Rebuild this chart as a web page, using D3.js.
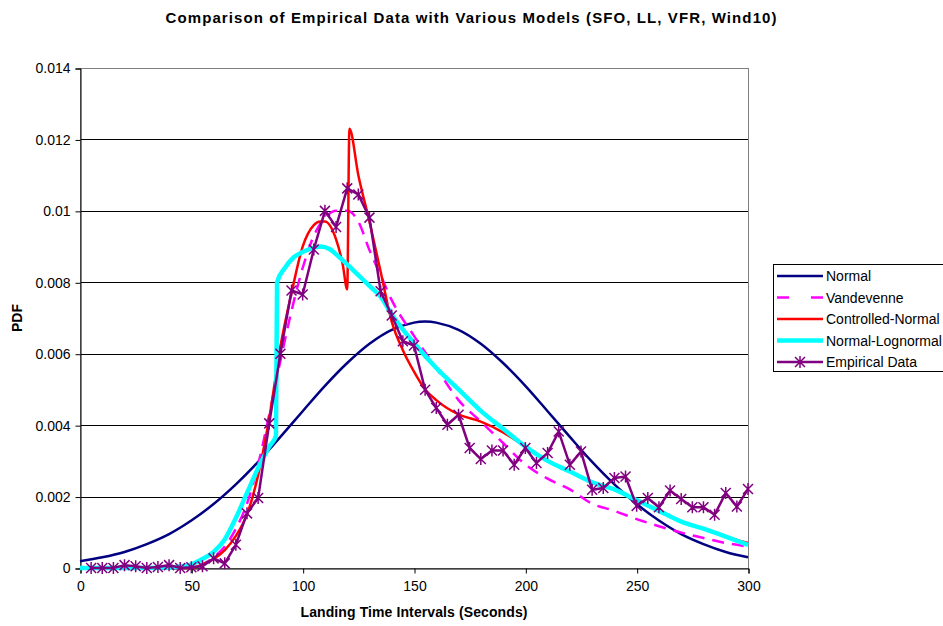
<!DOCTYPE html>
<html>
<head>
<meta charset="utf-8">
<script src="https://cdn.jsdelivr.net/npm/d3@7"></script>
<style>
  body { margin: 0; background: #fff; }
  text { font-family: Arial, "Liberation Sans", sans-serif; }
</style>
</head>
<body>
<svg id="chart"></svg>
<script>
(() => {

  // values
  const xTicks = [0, 50, 100, 150, 200, 250, 300];
  const yTicks = [0, 0.002, 0.004, 0.006, 0.008, 0.01, 0.012, 0.014];
  const yTickLabels = ['0', '0.002', '0.004', '0.006', '0.008', '0.01', '0.012', '0.014'];

  const normalX = [0, 10, 20, 30, 40, 50, 60, 70, 80, 90, 100, 110, 120, 130, 140, 150, 155, 160, 170, 180, 190, 200, 210, 220, 230, 240, 250, 260, 270, 280, 290, 300];
  const normalY = [0.00019, 0.0003, 0.00045, 0.00067, 0.00095, 0.00133, 0.00179, 0.00234, 0.00297, 0.00367, 0.00439, 0.0051, 0.00574, 0.00628, 0.00667, 0.00687, 0.0069, 0.00687, 0.00667, 0.00628, 0.00574, 0.0051, 0.00439, 0.00367, 0.00297, 0.00234, 0.00179, 0.00133, 0.00095, 0.00067, 0.00045, 0.0003];

  const vandevenneX = [0, 20, 40, 50, 55, 60, 65, 70, 75, 80, 85, 90, 95, 100, 105, 110, 115, 120, 125, 130, 135, 140, 150, 160, 170, 180, 190, 200, 210, 220, 230, 240, 250, 260, 270, 280, 290, 300];
  const vandevenneY = [0, 0, 0, 0.00002, 0.0001, 0.0003, 0.0006, 0.0011, 0.0018, 0.0029, 0.0043, 0.0058, 0.0072, 0.0084, 0.0093, 0.0098, 0.01, 0.01, 0.0097, 0.0089, 0.0082, 0.0075, 0.0065, 0.0056, 0.0047, 0.0041, 0.0035, 0.0029, 0.0025, 0.0022, 0.0018, 0.0016, 0.00137, 0.00117, 0.00099, 0.00084, 0.0007, 0.0006];

  const controlledX = [0, 20, 40, 50, 55, 60, 65, 70, 75, 80, 85, 90, 95, 100, 105, 108, 110, 115, 118, 120, 121, 125, 130, 135, 140, 145, 150, 155, 160, 170, 180, 190, 200, 210, 220, 230, 240, 250, 260, 270, 280, 290, 300];
  const controlledY = [0, 0, 0, 0, 0.0001, 0.00025, 0.0005, 0.0009, 0.0015, 0.0026, 0.0042, 0.0062, 0.0077, 0.009, 0.0096, 0.0097, 0.0097, 0.0092, 0.0085, 0.0078, 0.0123, 0.011, 0.0097, 0.0083, 0.0069, 0.0061, 0.0055, 0.005, 0.0047, 0.0043, 0.0041, 0.0038, 0.0034, 0.003, 0.0027, 0.0024, 0.0022, 0.0019, 0.0016, 0.0013, 0.0011, 0.00088, 0.0007];

  const lognormalX = [0, 20, 40, 45, 50, 55, 60, 65, 70, 75, 80, 85, 88, 88.5, 92, 96, 100, 104, 108, 112, 116, 120, 125, 130, 135, 140, 150, 160, 170, 180, 190, 200, 210, 220, 230, 240, 250, 260, 270, 280, 290, 300];
  const lognormalY = [0, 0, 0.00001, 0.00004, 0.0001, 0.00025, 0.00045, 0.0008, 0.0014, 0.0021, 0.0028, 0.0034, 0.0037, 0.008, 0.0084, 0.0087, 0.00885, 0.00895, 0.009, 0.00893, 0.00873, 0.0085, 0.0082, 0.0079, 0.0076, 0.0071, 0.0063, 0.0056, 0.005, 0.0044, 0.0039, 0.0034, 0.003, 0.0027, 0.0024, 0.0022, 0.0019, 0.0016, 0.0013, 0.0011, 0.00088, 0.00065];

  const empiricalX = [5, 10, 15, 20, 25, 30, 35, 40, 45, 50, 55, 60, 65, 70, 75, 80, 85, 90, 95, 100, 105, 110, 115, 120, 125, 130, 135, 140, 145, 150, 155, 160, 165, 170, 175, 180, 185, 190, 195, 200, 205, 210, 215, 220, 225, 230, 235, 240, 245, 250, 255, 260, 265, 270, 275, 280, 285, 290, 295, 300];
  const empiricalY = [0, 0, 0, 0.00008, 0.00005, 0, 0.00003, 0.00008, 0, 0.00002, 0.00005, 0.00027, 0.00013, 0.00065, 0.00153, 0.00196, 0.00405, 0.006, 0.00777, 0.00766, 0.00892, 0.01, 0.00955, 0.01063, 0.01046, 0.00981, 0.00775, 0.00707, 0.00635, 0.00623, 0.00499, 0.00448, 0.00401, 0.00429, 0.00336, 0.00305, 0.00329, 0.00329, 0.00289, 0.00336, 0.00294, 0.00322, 0.00382, 0.00289, 0.00326, 0.00219, 0.00224, 0.00252, 0.00256, 0.00174, 0.00196, 0.0017, 0.00217, 0.00193, 0.0017, 0.0017, 0.00149, 0.0021, 0.00172, 0.00221];

  const seriesNames = ['Normal', 'Vandevenne', 'Controlled-Normal', 'Normal-Lognormal', 'Empirical Data'];

  const width = 943, height = 626;
  const plot = { left: 80, right: 748, top: 68, bottom: 568 };

  const svg = d3.select('#chart')
    .attr('width', width)
    .attr('height', height);

  const x = d3.scaleLinear().domain([0, 300]).range([plot.left, plot.right]);
  const y = d3.scaleLinear().domain([0, 0.014]).range([plot.bottom, plot.top]);

  // gridlines
  svg.append('g')
    .selectAll('line')
    .data(yTicks.slice(1, -1))
    .enter()
    .append('line')
    .attr('x1', plot.left).attr('x2', plot.right)
    .attr('y1', d => Math.round(y(d)) + 0.5).attr('y2', d => Math.round(y(d)) + 0.5)
    .attr('stroke', '#000').attr('stroke-width', 1);

  // plot frame
  svg.append('rect')
    .attr('x', plot.left + 0.5).attr('y', plot.top + 0.5)
    .attr('width', plot.right - plot.left).attr('height', plot.bottom - plot.top)
    .attr('fill', 'none').attr('stroke', '#808080');

  // axes
  const yAxis = svg.append('g')
    .attr('transform', `translate(${plot.left + 0.5},0.5)`)
    .call(d3.axisLeft(y).tickValues(yTicks).tickSize(5).tickPadding(5)
      .tickFormat((d, i) => yTickLabels[i]));
  const xAxis = svg.append('g')
    .attr('transform', `translate(0.5,${plot.bottom + 0.5})`)
    .call(d3.axisBottom(x).tickValues(xTicks).tickSize(5).tickPadding(8));

  [yAxis, xAxis].forEach(g => {
    g.selectAll('path').attr('stroke', '#000');
    g.selectAll('line').attr('stroke', '#000');
    g.selectAll('text').attr('font-size', 14).attr('fill', '#000')
      .attr('font-family', 'Arial, "Liberation Sans", sans-serif');
  });

  // series
  const smooth = d3.line()
    .x(d => x(d[0]))
    .y(d => y(d[1]))
    .curve(d3.curveCatmullRom);
  const monotone = d3.line()
    .x(d => x(d[0]))
    .y(d => y(d[1]))
    .curve(d3.curveMonotoneX);

  const series = [
    { name: seriesNames[0], xs: normalX, ys: normalY, color: '#000080', width: 2.5, dash: null, gen: smooth },
    { name: seriesNames[1], xs: vandevenneX, ys: vandevenneY, color: '#FF00FF', width: 2.5, dash: '12,8', gen: monotone },
    { name: seriesNames[2], xs: controlledX, ys: controlledY, color: '#FF0000', width: 2.5, dash: null, gen: monotone },
    { name: seriesNames[3], xs: lognormalX, ys: lognormalY, color: '#00FFFF', width: 4.5, dash: null, gen: monotone }
  ];

  series.forEach(s => {
    svg.append('path')
      .datum(d3.zip(s.xs, s.ys))
      .attr('d', s.gen)
      .attr('fill', 'none')
      .attr('stroke', s.color)
      .attr('stroke-width', s.width)
      .attr('stroke-dasharray', s.dash);
  });

  const empirical = d3.zip(empiricalX, empiricalY);
  svg.append('path')
    .datum(empirical)
    .attr('d', d3.line().x(d => x(d[0])).y(d => y(d[1])))
    .attr('fill', 'none')
    .attr('stroke', '#800080')
    .attr('stroke-width', 2.5);

  const star = 'M-5,-5L5,5M-5,5L5,-5M0,-6L0,6';
  svg.append('g')
    .selectAll('path')
    .data(empirical)
    .enter()
    .append('path')
    .attr('transform', d => `translate(${x(d[0])},${y(d[1])})`)
    .attr('d', star)
    .attr('stroke', '#800080')
    .attr('stroke-width', 1.5)
    .attr('fill', 'none');

  // titles
  svg.append('text')
    .attr('x', 471).attr('y', 23)
    .attr('text-anchor', 'middle')
    .attr('font-size', 15).attr('font-weight', 'bold')
    .attr('textLength', 611).attr('lengthAdjust', 'spacing')
    .text('Comparison of Empirical Data with Various Models (SFO, LL, VFR, Wind10)');

  svg.append('text')
    .attr('x', 414).attr('y', 617)
    .attr('text-anchor', 'middle')
    .attr('font-size', 14).attr('font-weight', 'bold')
    .attr('textLength', 227).attr('lengthAdjust', 'spacing')
    .text('Landing Time Intervals (Seconds)');

  svg.append('text')
    .attr('transform', 'translate(22,318) rotate(-90)')
    .attr('text-anchor', 'middle')
    .attr('font-size', 14).attr('font-weight', 'bold')
    .text('PDF');

  // legend
  const legend = svg.append('g').attr('transform', 'translate(773,264)');
  legend.append('rect')
    .attr('x', 0.5).attr('y', 0.5)
    .attr('width', 200).attr('height', 107)
    .attr('fill', '#fff').attr('stroke', '#000');

  const legendItems = legend.selectAll('g.item')
    .data(seriesNames)
    .enter()
    .append('g')
    .attr('transform', (d, i) => `translate(0,${12 + i * 21.5})`);

  const legendStyles = series.concat([{ color: '#800080', width: 2.5, dash: null }]);

  legendItems.append('line')
    .attr('x1', 4).attr('x2', 50)
    .attr('y1', 0).attr('y2', 0)
    .attr('stroke', (d, i) => legendStyles[i].color)
    .attr('stroke-width', (d, i) => legendStyles[i].width)
    .attr('stroke-dasharray', (d, i) => i === 1 ? '12,22' : null);

  legendItems.filter((d, i) => i === 4)
    .append('path')
    .attr('transform', 'translate(27,0)')
    .attr('d', star)
    .attr('stroke', '#800080')
    .attr('stroke-width', 1.5);

  legendItems.append('text')
    .attr('x', 53).attr('y', 5)
    .attr('font-size', 14)
    .text(d => d);

})();
</script>
</body>
</html>
